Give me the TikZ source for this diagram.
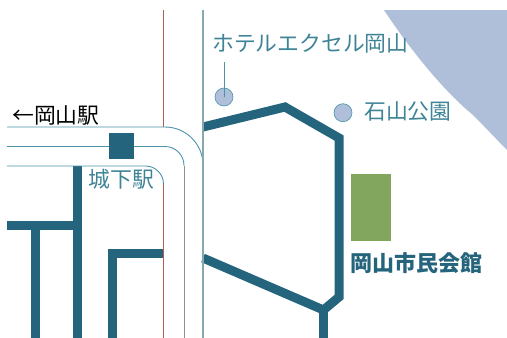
\documentclass[tikz,border=0pt]{standalone}
\usepackage{fontspec}
\newfontfamily\cjk{Noto Sans CJK JP}
\definecolor{road}{HTML}{25647D}
\definecolor{teal}{HTML}{4A93A8}
\definecolor{brownl}{HTML}{B0614E}
\definecolor{greyb}{HTML}{8E8F8E}
\definecolor{greyl}{HTML}{86A9AE}
\definecolor{lake}{HTML}{B0BFD9}
\definecolor{hall}{HTML}{82A65E}
\definecolor{txt}{HTML}{3E8496}
\tikzset{
 thick road/.style={draw=road,line width=9pt,line join=miter,line cap=butt},
 thin road/.style={line width=0.9pt},
 spot/.style={circle,draw=teal,fill=lake,line width=0.6pt,minimum size=18pt,inner sep=0pt},
 label/.style={inner sep=0pt,anchor=west,text=txt,font=\cjk\fontsize{21.8pt}{22pt}\selectfont},
}
\begin{document}
\begin{tikzpicture}[x=1pt,y=-1pt]
\useasboundingbox (0,0) rectangle (507,338);
\begin{scope}
\clip (7,10) rectangle (507,338);
% lake
\fill[lake] (384,10) .. controls (405,42) and (440,88) .. (473,115) .. controls (485,127) and (497,140) .. (507,150) -- (507,10) -- cycle;
% thick roads
\draw[thick road] (203,127) -- (285,107) -- (339,138) -- (339,297) -- (323.5,310) -- (203,258);
\draw[thick road,line width=8.5pt] (323.5,308) -- (323.5,338);
\draw[thick road] (7,225.5) -- (77,225.5);
\draw[thick road] (77,166) -- (77,338);
\draw[thick road] (35,225) -- (35,338);
\draw[thick road] (163.5,253) -- (112,253);
\draw[thick road] (112,248.5) -- (112,338);
% thin roads
\draw[thin road,draw=brownl] (163.5,10) -- (163.5,127);
\draw[thin road,draw=brownl] (163.5,338) -- (163.5,184);
\draw[thin road,draw=teal] (163.5,184) arc[start angle=0,end angle=-90,radius=18] -- (7,166);
\draw[thin road,draw=teal] (7,127) -- (165,127) arc[start angle=-90,end angle=0,radius=38];
\draw[thin road,draw=teal] (7,146.5) -- (165,146.5) arc[start angle=-90,end angle=0,radius=19];
\draw[thin road,draw=greyb] (184,165.5) -- (184,338);
\draw[thin road,draw=greyl,line width=1.1pt] (203,10) -- (203,338);
\end{scope}
% station, hall
\node[draw=none,fill=road,minimum width=25pt,minimum height=26pt,inner sep=0pt] (station) at (121.5,146) {};
\node[fill=hall,minimum width=40pt,minimum height=67pt,inner sep=0pt] (hall) at (371,207.5) {};
% spots
\node[spot] (hotel) at (224,97) {};
\node[spot] (park) at (343,112.7) {};
\coordinate (hotelleader) at (224,62);
\draw[draw=teal,line width=0.8pt] (hotelleader) -- (hotel.center);
% labels
\node[label] (hotellabel) at (212,43.5) {ホテルエクセル岡山};
\node[label] (parklabel) at (364,111.5) {石山公園};
\node[label] (stationlabel) at (88.5,179) {城下駅};
\node[label,text=black] (ekilabel) at (12,115.5) {←岡山駅};
\node[label,text=road,font=\cjk\bfseries\fontsize{22pt}{23pt}\selectfont] (halllabel) at (350.5,263) {岡山市民会館};
\end{tikzpicture}
\end{document}
